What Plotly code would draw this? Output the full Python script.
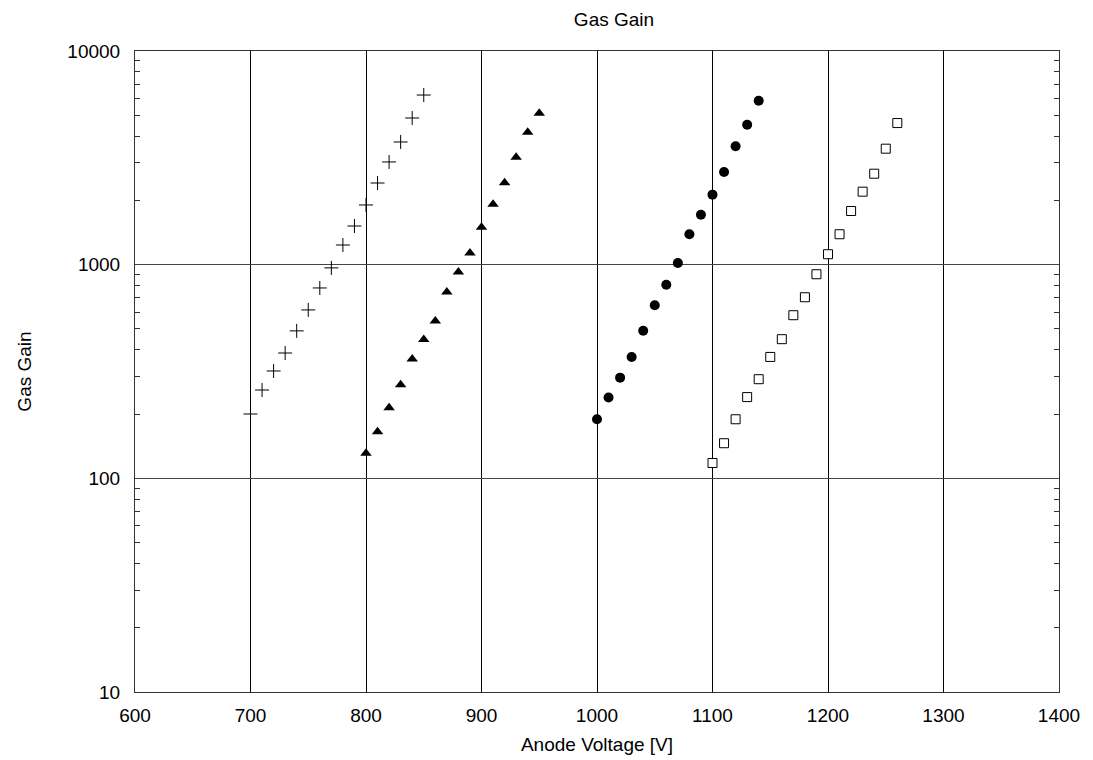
import plotly.graph_objects as go

# Anode voltages [V]
v_cross = [700, 710, 720, 730, 740, 750, 760, 770, 780, 790, 800, 810, 820, 830, 840, 850]
g_cross = [200, 259, 318, 386, 490, 614, 778, 966, 1236, 1517, 1903, 2411, 3025, 3752, 4858, 6223]

v_tri = [800, 810, 820, 830, 840, 850, 860, 870, 880, 890, 900, 910, 920, 930, 940, 950]
g_tri = [131, 165, 214, 274, 362, 446, 545, 745, 925, 1135, 1496, 1917, 2419, 3181, 4164, 5110]

v_circ = [1000, 1010, 1020, 1030, 1040, 1050, 1060, 1070, 1080, 1090, 1100, 1110, 1120, 1130, 1140]
g_circ = [189, 239, 296, 370, 491, 646, 806, 1018, 1388, 1714, 2127, 2715, 3580, 4520, 5850]

v_sq = [1100, 1110, 1120, 1130, 1140, 1150, 1160, 1170, 1180, 1190, 1200, 1210, 1220, 1230, 1240, 1250, 1260]
g_sq = [118, 146, 189, 240, 291, 370, 448, 580, 704, 902, 1119, 1388, 1783, 2196, 2665, 3490, 4600]

x_ticks = [600, 700, 800, 900, 1000, 1100, 1200, 1300, 1400]
y_ticks = [10, 100, 1000, 10000]
y_minor = [m * d for d in (10, 100, 1000) for m in range(2, 10)]

FONT = "Liberation Sans, Arial, sans-serif"
FS = 19

fig = go.Figure()
fig.add_trace(go.Scatter(x=v_cross, y=g_cross, mode="markers",
                         marker=dict(symbol="cross-thin", size=10, line=dict(color="black", width=1))))
fig.add_trace(go.Scatter(x=v_tri, y=g_tri, mode="markers",
                         marker=dict(symbol="triangle-up", size=10, color="black", line=dict(width=0))))
fig.add_trace(go.Scatter(x=v_circ, y=g_circ, mode="markers",
                         marker=dict(symbol="circle", size=10, color="black", line=dict(width=0))))
fig.add_trace(go.Scatter(x=v_sq, y=g_sq, mode="markers",
                         marker=dict(symbol="square", size=9, color="white", line=dict(color="black", width=1))))

fig.update_layout(
    width=1093, height=760,
    margin=dict(l=127, r=42, t=43, b=76),
    paper_bgcolor="white", plot_bgcolor="white",
    showlegend=False,
    font=dict(family=FONT, size=FS, color="black"),
    title=dict(text="Gas Gain", x=606/1093, xref="container", xanchor="center",
               y=1 - 5/760, yref="container", yanchor="top",
               font=dict(family=FONT, size=FS, color="black")),
    xaxis=dict(range=[600, 1400], tickvals=x_ticks, ticktext=[str(v) for v in x_ticks],
               showgrid=True, gridcolor="black", gridwidth=1,
               showline=True, linecolor="#333", linewidth=1, mirror=True,
               ticks="", zeroline=False, ticklabelstandoff=6,
               title=dict(text="Anode Voltage [V]", standoff=12, font=dict(size=FS))),
    yaxis=dict(type="log", range=[1, 4], tickvals=y_ticks, ticktext=[str(v) for v in y_ticks],
               showgrid=True, gridcolor="#444", gridwidth=1,
               showline=True, linecolor="#333", linewidth=1, mirror="ticks",
               ticks="", zeroline=False, ticklabelstandoff=10,
               minor=dict(tickmode="array", tickvals=y_minor, ticks="inside", ticklen=5,
                          tickcolor="#333", tickwidth=1, showgrid=False),
               title=dict(text="Gas Gain", standoff=30, font=dict(size=FS))),
)

fig.write_html("out.html")
